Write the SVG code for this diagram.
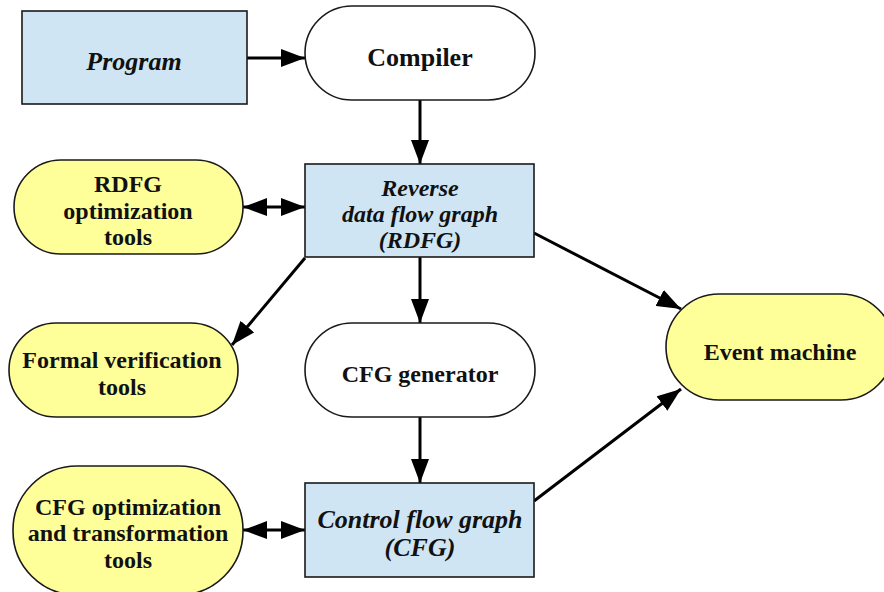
<svg xmlns="http://www.w3.org/2000/svg" width="884" height="592" viewBox="0 0 884 592">
  <style>
    .box { fill: #cfe5f3; stroke: #1a1a1a; stroke-width: 1.6; }
    .tool { fill: #ffff99; stroke: #1a1a1a; stroke-width: 1.6; }
    .proc { fill: #ffffff; stroke: #1a1a1a; stroke-width: 1.6; }
    text { font-family: "Liberation Serif", "Times New Roman", serif; font-weight: bold; font-size: 24px; fill: #111; text-anchor: middle; }
    .it { font-style: italic; }
    .big { font-size: 26px; }
    .edge { stroke: #000; stroke-width: 3; fill: none; }
  </style>
  <defs>
    <marker id="arrow" markerWidth="8" markerHeight="6" refX="8" refY="3" orient="auto" markerUnits="strokeWidth">
      <path d="M0,0 L8,3 L0,6 Z" fill="#000"/>
    </marker>
    <marker id="arrowStart" markerWidth="8" markerHeight="6" refX="0" refY="3" orient="auto" markerUnits="strokeWidth">
      <path d="M8,0 L0,3 L8,6 Z" fill="#000"/>
    </marker>
  </defs>

  <g id="connectors">
    <line class="edge" x1="247" y1="58" x2="305" y2="58" marker-end="url(#arrow)"/>
    <line class="edge" x1="420" y1="100" x2="420" y2="164" marker-end="url(#arrow)"/>
    <line class="edge" x1="243" y1="207" x2="305" y2="207" marker-start="url(#arrowStart)" marker-end="url(#arrow)"/>
    <line class="edge" x1="305" y1="258" x2="232" y2="345" marker-end="url(#arrow)"/>
    <line class="edge" x1="420" y1="257" x2="420" y2="323" marker-end="url(#arrow)"/>
    <line class="edge" x1="534" y1="233" x2="681" y2="309" marker-end="url(#arrow)"/>
    <line class="edge" x1="420" y1="417" x2="420" y2="483" marker-end="url(#arrow)"/>
    <line class="edge" x1="243" y1="530" x2="305" y2="530" marker-start="url(#arrowStart)" marker-end="url(#arrow)"/>
    <line class="edge" x1="534" y1="501" x2="681" y2="389" marker-end="url(#arrow)"/>
  </g>

  <g id="program">
    <rect class="box" x="22" y="11" width="225" height="93"/>
    <text class="it big" x="134" y="70">Program</text>
  </g>

  <g id="compiler">
    <rect class="proc" x="305" y="6" width="230" height="94" rx="47" ry="47"/>
    <text class="big" x="420" y="66">Compiler</text>
  </g>

  <g id="rdfg-tools">
    <rect class="tool" x="14" y="160" width="229" height="94" rx="47" ry="47"/>
    <text x="128" y="192">RDFG</text>
    <text x="128" y="219">optimization</text>
    <text x="128" y="245">tools</text>
  </g>

  <g id="rdfg">
    <rect class="box" x="305" y="164" width="229" height="93"/>
    <text class="it" x="420" y="196">Reverse</text>
    <text class="it" x="420" y="222">data flow graph</text>
    <text class="it" x="420" y="248">(RDFG)</text>
  </g>

  <g id="formal-verification">
    <rect class="tool" x="9" y="323" width="229" height="94" rx="47" ry="47"/>
    <text x="122" y="368">Formal verification</text>
    <text x="122" y="395">tools</text>
  </g>

  <g id="cfg-generator">
    <rect class="proc" x="305" y="323" width="230" height="94" rx="47" ry="47"/>
    <text x="420" y="382">CFG generator</text>
  </g>

  <g id="event-machine">
    <rect class="tool" x="666" y="294" width="228" height="106" rx="53" ry="53"/>
    <text x="780" y="360">Event machine</text>
  </g>

  <g id="cfg-tools">
    <rect class="tool" x="13" y="466" width="230" height="129" rx="64" ry="64"/>
    <text x="128" y="515">CFG optimization</text>
    <text x="128" y="541">and transformation</text>
    <text x="128" y="568">tools</text>
  </g>

  <g id="cfg">
    <rect class="box" x="305" y="483" width="229" height="94"/>
    <text class="it big" x="420" y="528">Control flow graph</text>
    <text class="it big" x="420" y="556">(CFG)</text>
  </g>
</svg>
